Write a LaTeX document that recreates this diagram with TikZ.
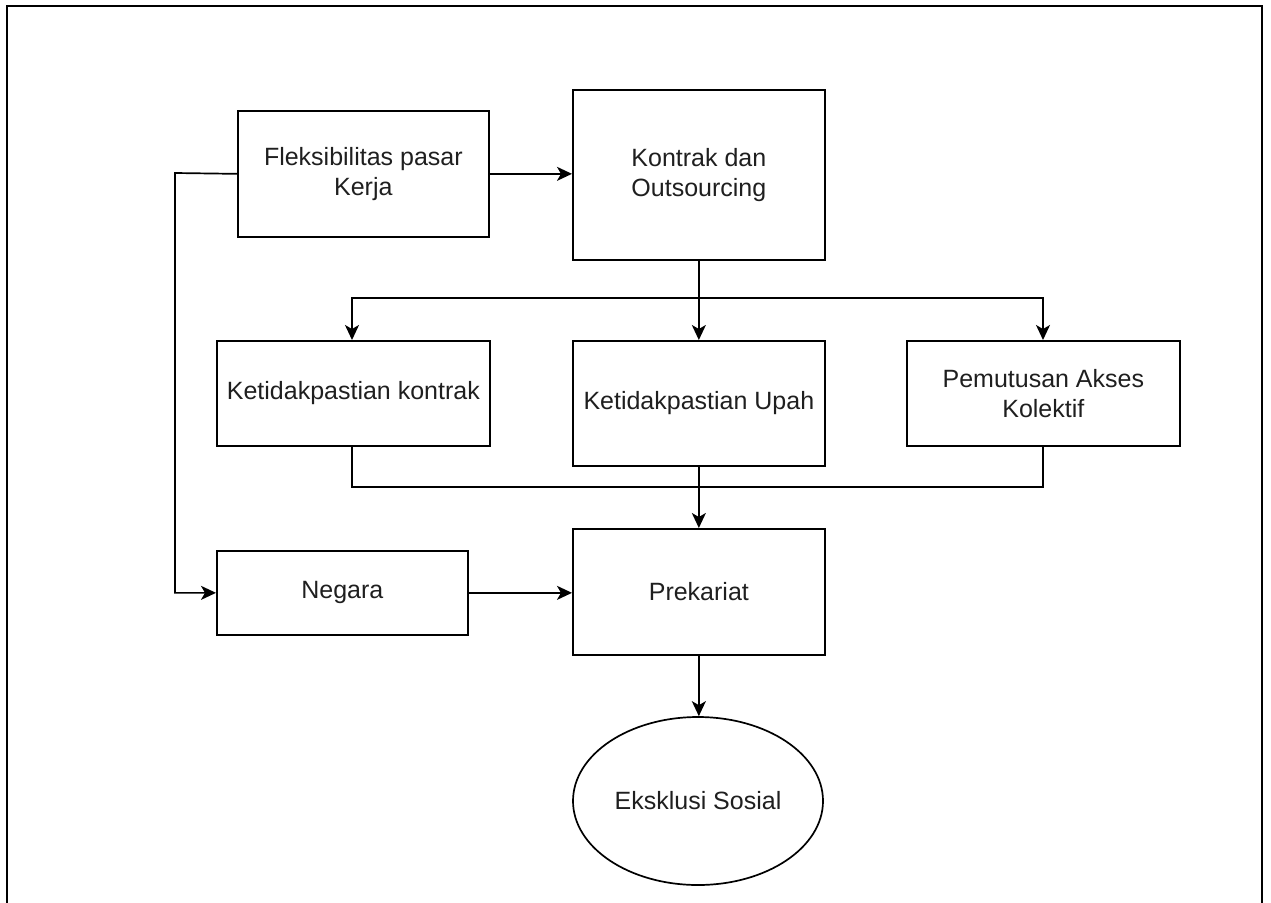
\documentclass[tikz,border=0pt]{standalone}
\usepackage{fontspec}
\setmainfont{Liberation Sans}
\usetikzlibrary{arrows.meta,shapes.geometric}
\begin{document}
\begin{tikzpicture}[x=1pt,y=-1pt,
  txt/.style={font=\fontsize{25}{30}\selectfont,text=black!88},
  box/.style={draw,line width=1.7pt,inner sep=0pt,anchor=north west,align=center,txt},
  link/.style={line width=1.7pt,-{Stealth[length=15pt,width=14pt,inset=4pt]}},
  wire/.style={line width=1.7pt}]
\useasboundingbox (0,0) rectangle (1271,902);
\begin{scope}
\clip (0,0) rectangle (1271,902);
\draw[line width=2.6pt] (7,6) rectangle (1262,920);
\end{scope}
\node[box,minimum width=251pt,minimum height=126pt] (flek) at (237,110) {Fleksibilitas pasar\\Kerja};
\node[box,minimum width=252pt,minimum height=170pt] (kontrak) at (572,89) {Kontrak dan\\Outsourcing};
\node[box,minimum width=273pt,minimum height=105pt] (kk) at (216,340) {Ketidakpastian kontrak};
\node[box,minimum width=252pt,minimum height=125pt] (upah) at (572,340) {Ketidakpastian Upah};
\node[box,minimum width=273pt,minimum height=105pt] (pem) at (906,340) {Pemutusan Akses\\Kolektif};
\node[box,minimum width=251pt,minimum height=84pt] (negara) at (216,550) {Negara};
\node[box,minimum width=252pt,minimum height=126pt] (prek) at (572,528) {Prekariat};
\node[draw,line width=1.7pt,ellipse,inner sep=0pt,minimum width=250pt,minimum height=168pt,
  txt] (eks) at (698,801) {Eksklusi Sosial};
% connectors
\draw[link] (flek.east) -- (kontrak.west |- flek.east);
\coordinate (fl) at (175,173);
\draw[link] (flek.west) -- (fl) |- (negara.west);
\coordinate (split) at (698,298);
\draw[link] (kontrak.south) -- (upah.north);
\draw[link] (split) -| (kk.north -| 352,0);
\draw[link] (split) -| (pem.north -| 1043,0);
\coordinate (join) at (698,487);
\draw[wire] (kk.south -| 352,0) |- (join);
\draw[wire] (pem.south -| 1043,0) |- (join);
\draw[link] (upah.south) -- (prek.north);
\draw[link] (negara.east) -- (prek.west |- negara.east);
\draw[link] (prek.south) -- (prek.south |- eks.north);
\end{tikzpicture}
\end{document}
